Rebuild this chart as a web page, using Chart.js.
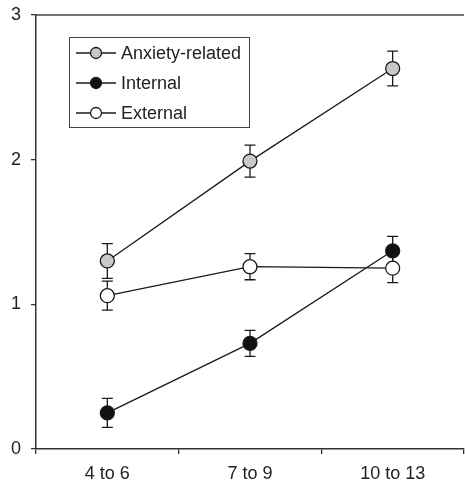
<!DOCTYPE html>
<html>
<head>
<meta charset="utf-8">
<script src="https://cdn.jsdelivr.net/npm/chart.js@4"></script>
<style>
  html, body { margin: 0; padding: 0; background: #fff; }
  #wrap { width: 465px; height: 482px; }
</style>
</head>
<body>
<div id="wrap"><canvas id="ageChart" width="465" height="482"></canvas></div>
<script>
// Age groups on the x axis
const ageGroups = ['4 to 6', '7 to 9', '10 to 13'];

// Mean scores and error bar half-lengths
const anxietyRelated = [1.30, 1.99, 2.63];
const anxietyErr = [0.12, 0.11, 0.12];
const internal = [0.25, 0.73, 1.37];
const internalErr = [0.10, 0.09, 0.10];
const external = [1.06, 1.26, 1.25];
const externalErr = [0.10, 0.09, 0.10];

const yTicks = [0, 1, 2, 3];

const INK = '#1a1a1a';
const FONT = { family: '"Liberation Sans", Arial, sans-serif', size: 18 };

function makeSeries(label, data, errors, fill) {
    return {
        label: label,
        data: data,
        errors: errors,
        borderColor: INK,
        borderWidth: 1.3,
        backgroundColor: fill,
        pointBackgroundColor: fill,
        pointBorderColor: INK,
        pointBorderWidth: 1.3,
        pointRadius: 7,
        pointHoverRadius: 7,
        tension: 0,
        fill: false,
        clip: 10
    };
}

// Vertical error bars with caps, drawn under the markers
const errorBars = {
    id: 'errorBars',
    beforeDatasetsDraw(chart) {
        const ctx = chart.ctx;
        const y = chart.scales.y;
        ctx.save();
        ctx.strokeStyle = INK;
        ctx.lineWidth = 1.3;
        chart.data.datasets.forEach((ds, i) => {
            const meta = chart.getDatasetMeta(i);
            meta.data.forEach((pt, j) => {
                const e = ds.errors[j];
                const top = y.getPixelForValue(ds.data[j] + e);
                const bot = y.getPixelForValue(ds.data[j] - e);
                const cap = 5.5;
                ctx.beginPath();
                ctx.moveTo(pt.x, top);
                ctx.lineTo(pt.x, bot);
                ctx.moveTo(pt.x - cap, top);
                ctx.lineTo(pt.x + cap, top);
                ctx.moveTo(pt.x - cap, bot);
                ctx.lineTo(pt.x + cap, bot);
                ctx.stroke();
            });
        });
        ctx.restore();
    }
};

// Top frame line and the boxed legend inside the plot
const frameAndLegend = {
    id: 'frameAndLegend',
    afterDraw(chart) {
        const ctx = chart.ctx;
        const a = chart.chartArea;
        ctx.save();
        ctx.strokeStyle = '#444';
        ctx.lineWidth = 1.5;
        ctx.beginPath();
        ctx.moveTo(a.left, a.top);
        ctx.lineTo(a.right, a.top);
        ctx.stroke();

        // legend box
        const bx = 69, by = 37, bw = 180, bh = 90;
        ctx.fillStyle = '#fff';
        ctx.fillRect(bx, by, bw, bh);
        ctx.lineWidth = 1;
        ctx.strokeStyle = '#444';
        ctx.strokeRect(bx + 0.5, by + 0.5, bw, bh);

        ctx.font = FONT.size + 'px ' + FONT.family;
        ctx.textBaseline = 'middle';
        ctx.textAlign = 'left';
        chart.data.datasets.forEach((ds, i) => {
            const rowY = 53 + i * 30;
            ctx.strokeStyle = INK;
            ctx.lineWidth = 1.3;
            ctx.beginPath();
            ctx.moveTo(76, rowY);
            ctx.lineTo(116, rowY);
            ctx.stroke();
            ctx.beginPath();
            ctx.arc(96, rowY, 5.5, 0, Math.PI * 2);
            ctx.fillStyle = ds.pointBackgroundColor;
            ctx.fill();
            ctx.stroke();
            ctx.fillStyle = '#222';
            ctx.fillText(ds.label, 121, rowY + 1);
        });
        ctx.restore();
    }
};

const ctx = document.getElementById('ageChart').getContext('2d');
new Chart(ctx, {
    type: 'line',
    data: {
        labels: ageGroups,
        datasets: [
            makeSeries('Anxiety-related', anxietyRelated, anxietyErr, '#c8c8c8'),
            makeSeries('Internal', internal, internalErr, '#111111'),
            makeSeries('External', external, externalErr, '#ffffff')
        ]
    },
    options: {
        responsive: false,
        animation: false,
        layout: { autoPadding: false, padding: { top: 15, right: 1, left: 0, bottom: 0 } },
        plugins: {
            legend: { display: false },
            tooltip: { enabled: false }
        },
        scales: {
            x: {
                offset: true,
                afterFit: s => { s.height = 33; s.paddingLeft = 0; s.paddingRight = 0; },
                grid: { offset: true, drawOnChartArea: false, drawTicks: true, tickLength: 5, color: '#333', lineWidth: 1.3 },
                border: { display: true, color: '#333', width: 1.5 },
                ticks: { color: '#222', font: FONT, padding: 9 }
            },
            y: {
                min: 0,
                max: 3,
                afterFit: s => { s.width = 36; s.paddingTop = 0; s.paddingBottom = 0; },
                afterBuildTicks: s => { s.ticks = yTicks.map(v => ({ value: v })); },
                grid: { drawOnChartArea: false, drawTicks: true, tickLength: 5, color: '#333', lineWidth: 1.3 },
                border: { display: true, color: '#333', width: 1.5 },
                ticks: { color: '#222', font: FONT, padding: 10 }
            }
        }
    },
    plugins: [errorBars, frameAndLegend]
});
</script>
</body>
</html>
